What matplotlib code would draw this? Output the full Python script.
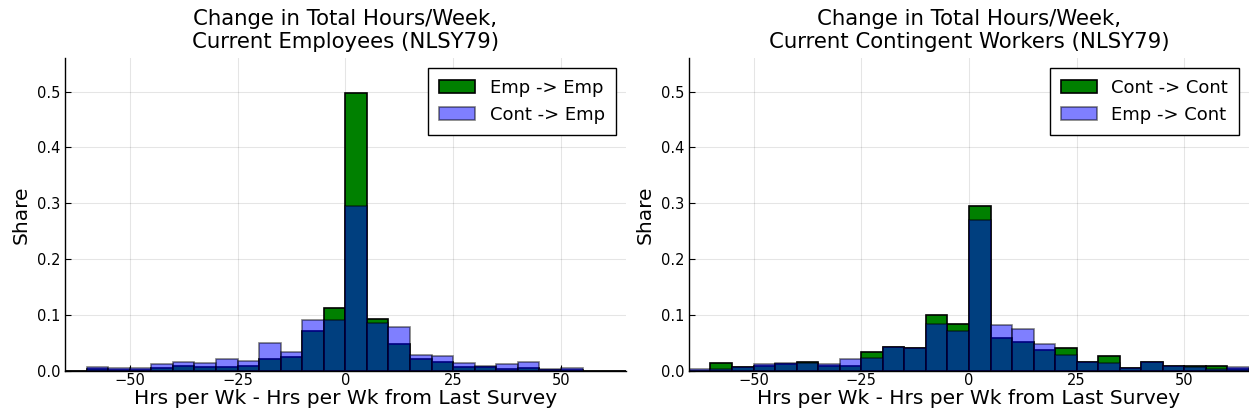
import matplotlib
matplotlib.use("Agg")
import matplotlib.pyplot as plt

# bin left edges (width 5 hrs)
bin_left = list(range(-65, 65, 5))
bin_width = 5

# left panel: current employees
emp_emp = [0, 0.0035, 0.0024, 0.002, 0.0054, 0.0095, 0.007, 0.0077, 0.010, 0.0214,
           0.0256, 0.0714, 0.113, 0.498, 0.093, 0.048, 0.021, 0.0167, 0.0077, 0.0066,
           0.004, 0.006, 0.002, 0.002, 0, 0]
cont_emp = [0, 0.0066, 0.005, 0.005, 0.012, 0.017, 0.014, 0.022, 0.018, 0.0506,
            0.0345, 0.092, 0.092, 0.295, 0.086, 0.079, 0.028, 0.027, 0.0137, 0.010,
            0.012, 0.016, 0.004, 0.005, 0, 0]

# right panel: current contingent workers
cont_cont = [0.001, 0.0137, 0.008, 0.0095, 0.012, 0.0155, 0.010, 0.010, 0.035, 0.0435,
             0.041, 0.1006, 0.085, 0.296, 0.060, 0.052, 0.037, 0.042, 0.0155, 0.027,
             0.0055, 0.0167, 0.0092, 0.0085, 0.010, 0.004]
emp_cont = [0.004, 0.003, 0.0075, 0.012, 0.0137, 0.015, 0.0125, 0.022, 0.024, 0.0425,
            0.0405, 0.085, 0.072, 0.271, 0.083, 0.0756, 0.049, 0.029, 0.016, 0.015,
            0.005, 0.016, 0.0085, 0.008, 0.0045, 0.0077]

panels = [
    ("Change in Total Hours/Week,\nCurrent Employees (NLSY79)",
     emp_emp, "Emp -> Emp", cont_emp, "Cont -> Emp"),
    ("Change in Total Hours/Week,\nCurrent Contingent Workers (NLSY79)",
     cont_cont, "Cont -> Cont", emp_cont, "Emp -> Cont"),
]

fig = plt.figure(figsize=(12.49, 4.17), dpi=100)
axes_pos = [[0.052, 0.110, 0.449, 0.751], [0.5516, 0.110, 0.4484, 0.751]]

for pos, (title, g, glab, b, blab) in zip(axes_pos, panels):
    ax = fig.add_axes(pos)
    ax.bar(bin_left, g, width=bin_width, align="edge", color="green",
           edgecolor="black", linewidth=1.2, label=glab)
    ax.bar(bin_left, b, width=bin_width, align="edge", color=(0, 0, 1, 0.5),
           edgecolor=(0, 0, 0, 0.5), linewidth=1.2, label=blab)
    ax.set_xlim(-65, 65)
    ax.set_ylim(0, 0.56)
    ax.set_xticks([-50, -25, 0, 25, 50])
    ax.set_yticks([0, 0.1, 0.2, 0.3, 0.4, 0.5])
    ax.set_yticklabels(["0.0", "0.1", "0.2", "0.3", "0.4", "0.5"])
    ax.grid(True, color="black", alpha=0.1, linewidth=0.8)
    ax.set_axisbelow(True)
    for s in ["top", "right"]:
        ax.spines[s].set_visible(False)
    ax.spines["left"].set_linewidth(1.0)
    ax.spines["bottom"].set_linewidth(1.0)
    ax.tick_params(direction="in", length=4, labelsize=10.5)
    ax.tick_params(axis="x", pad=1.5)
    ax.set_title(title, fontsize=15.3, pad=7)
    ax.set_xlabel("Hrs per Wk - Hrs per Wk from Last Survey", fontsize=14.5, labelpad=0.5)
    ax.set_ylabel("Share", fontsize=14.5)
    leg = ax.legend(loc="upper right", fontsize=13, fancybox=False,
                    framealpha=1, edgecolor="black", borderaxespad=0.55,
                    handlelength=2.0, handleheight=0.7, labelspacing=0.5,
                    borderpad=0.6, handletextpad=0.8)
    leg.get_frame().set_linewidth(1.0)

fig.savefig("out.png", dpi=100)
